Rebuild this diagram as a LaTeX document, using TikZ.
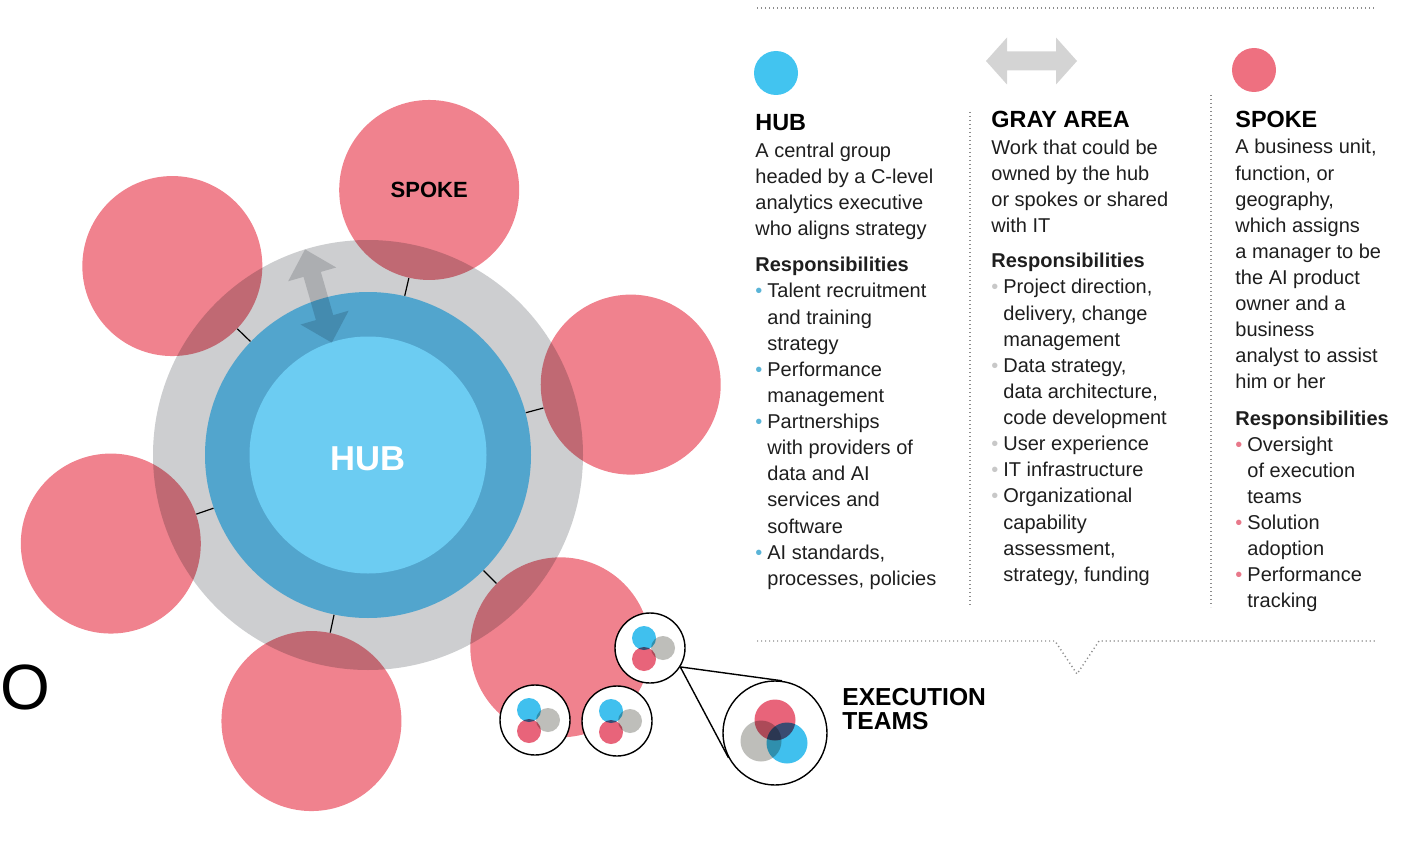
\documentclass[tikz,border=0pt]{standalone}
\usepackage{fontspec}
\setmainfont{Liberation Sans}
\usetikzlibrary{calc}

\definecolor{hubgray}{RGB}{205,206,208}
\definecolor{ringblue}{RGB}{82,165,205}
\definecolor{coreblue}{RGB}{108,204,242}
\definecolor{spokepink}{RGB}{240,130,142}
\definecolor{arrowgray}{RGB}{214,216,218}
\definecolor{keyblue}{RGB}{66,196,240}
\definecolor{keypink}{RGB}{238,112,128}
\definecolor{keygray}{RGB}{212,212,212}
\definecolor{teamblue}{RGB}{64,192,238}
\definecolor{teampink}{RGB}{232,100,122}
\definecolor{teamgray}{RGB}{190,190,186}
\definecolor{hubdot}{RGB}{90,180,215}
\definecolor{graydot}{RGB}{200,200,200}
\definecolor{spokedot}{RGB}{232,120,138}
\definecolor{ink}{RGB}{30,30,30}
\definecolor{dotgray}{RGB}{140,140,140}

\newcommand{\bl}[1]{\makebox[6pt][l]{\textcolor{#1}{•}}}
\newcommand{\ind}{\hspace*{6pt}}

\begin{document}
\begin{tikzpicture}[x=0.5pt, y=0.5pt, every node/.style={inner sep=0pt},
    spoke/.style={circle, fill=spokepink, minimum size=90pt},
    team/.style={circle, draw=black, line width=0.7pt, fill=white, minimum size=35pt},
    tick/.style={line width=0.6pt, black},
    dots/.style={dotgray, line width=0.7pt, dash pattern=on 0.6pt off 1.4pt},
    col/.style={anchor=north west, align=left, text=ink, font=\fontsize{10}{13.06}\selectfont},
    head/.style={anchor=base west, font=\bfseries\fontsize{11.7}{14}\selectfont}]
    \useasboundingbox (0,0) rectangle (1409,843);

    % hub
    \coordinate (c) at (368,388);
    \node[circle, fill=hubgray, minimum size=215pt] (gray) at (c) {};
    \node[circle, fill=ringblue, minimum size=163pt] (ring) at (c) {};
    \node[circle, fill=coreblue, minimum size=118.5pt] (core) at (c) {};
    \node[text=white, font=\bfseries\fontsize{17.3}{17}\selectfont] (hub) at ($(c)+(0,-4)$) {HUB};

    \begin{scope}[blend mode=multiply]
        \fill[arrowgray, shift={(318.4,547)}, rotate=106] (-48.5,0) -- (-22.5,25) -- (-22.5,9)
            -- (22.5,9) -- (22.5,25) -- (48.5,0) -- (22.5,-25) -- (22.5,-9)
            -- (-22.5,-9) -- (-22.5,-25) -- cycle;
        \foreach \a/\n in {15/s1, 77/s2, 136/s3, 199/s4, 258/s5, 315/s6}
            \node[spoke] (\n) at ($(c)+(\a:272)$) {};
    \end{scope}
    \node[font=\bfseries\fontsize{11}{11}\selectfont] (spokename) at (s2) {SPOKE};

    \foreach \n in {s1, s2, s3, s4, s5, s6}
        \draw[tick] (\n) -- (ring);

    % execution teams
    \node[team] (t1) at (650,195) {};
    \node[team] (t2) at (535,123) {};
    \node[team] (t3) at (617,122) {};
    \node[team, minimum size=52pt] (big) at (775,110) {};
    \draw[line width=0.7pt] (t1.-32) -- (tangent cs:node=big, point={(t1.-32)}, solution=1);
    \draw[line width=0.7pt] (t1.-32) -- (tangent cs:node=big, point={(t1.-32)}, solution=2);
    \begin{scope}[blend mode=multiply]
        \foreach \t in {t1, t2, t3} {
            \fill[teamblue] ($(\t)+(-6,10)$) circle (12);
            \fill[teamgray] ($(\t)+(13,0)$) circle (12);
            \fill[teampink] ($(\t)+(-6,-11)$) circle (12);
        }
        \fill[teampink] ($(big)+(0,13)$) circle (20.5);
        \fill[teamgray] ($(big)+(-14,-8)$) circle (20.5);
        \fill[teamblue] ($(big)+(12,-10)$) circle (20.5);
    \end{scope}
    \node[anchor=north west, align=left, font=\bfseries\fontsize{12.3}{12.2}\selectfont]
        (teams) at (842,155) {EXECUTION\\TEAMS};

    % key
    \node[circle, fill=keyblue, minimum size=22pt] (hubkey) at (776,770) {};
    \node[circle, fill=keypink, minimum size=22pt] (spokekey) at (1254,773) {};
    \fill[keygray, shift={(1031.5,782)}] (-45.5,0) -- (-24.5,23.5) -- (-24.5,9.5)
        -- (24.5,9.5) -- (24.5,23.5) -- (45.5,0) -- (24.5,-23.5) -- (24.5,-9.5)
        -- (-24.5,-9.5) -- (-24.5,-23.5) -- cycle;

    \draw[dots] (757,835) -- (1375,835);
    \draw[dots] (757,202) -- (1055,202) -- (1077,169) -- (1099,202) -- (1375,202);
    \draw[dots] (970,731) -- (970,238);
    \draw[dots] (1211,748) -- (1211,236);

    \node[head] (hubhead) at (755,712) {HUB};
    \node[head] (grayhead) at (991,715) {GRAY AREA};
    \node[head] (spokehead) at (1235,716) {SPOKE};

    \node[col] (hubtext) at (755,700.5) {A central group\\
        headed by a C-level\\
        analytics executive\\
        who aligns strategy\\[5pt]
        \textbf{Responsibilities}\\
        \bl{hubdot}Talent recruitment\\
        \ind and training\\
        \ind strategy\\
        \bl{hubdot}Performance\\
        \ind management\\
        \bl{hubdot}Partnerships\\
        \ind with providers of\\
        \ind data and AI\\
        \ind services and\\
        \ind software\\
        \bl{hubdot}AI standards,\\
        \ind processes, policies};
    \node[col] (graytext) at (991,703.5) {Work that could be\\
        owned by the hub\\
        or spokes or shared\\
        with IT\\[4.5pt]
        \textbf{Responsibilities}\\
        \bl{graydot}Project direction,\\
        \ind delivery, change\\
        \ind management\\
        \bl{graydot}Data strategy,\\
        \ind data architecture,\\
        \ind code development\\
        \bl{graydot}User experience\\
        \bl{graydot}IT infrastructure\\
        \bl{graydot}Organizational\\
        \ind capability\\
        \ind assessment,\\
        \ind strategy, funding};
    \node[col] (spoketext) at (1235,704) {A business unit,\\
        function, or\\
        geography,\\
        which assigns\\
        a manager to be\\
        the AI product\\
        owner and a\\
        business\\
        analyst to assist\\
        him or her\\[5pt]
        \textbf{Responsibilities}\\
        \bl{spokedot}Oversight\\
        \ind of execution\\
        \ind teams\\
        \bl{spokedot}Solution\\
        \ind adoption\\
        \bl{spokedot}Performance\\
        \ind tracking};

    \node[anchor=base west, font=\fontsize{32}{32}\selectfont] (o) at (0,134) {O};
\end{tikzpicture}
\end{document}
